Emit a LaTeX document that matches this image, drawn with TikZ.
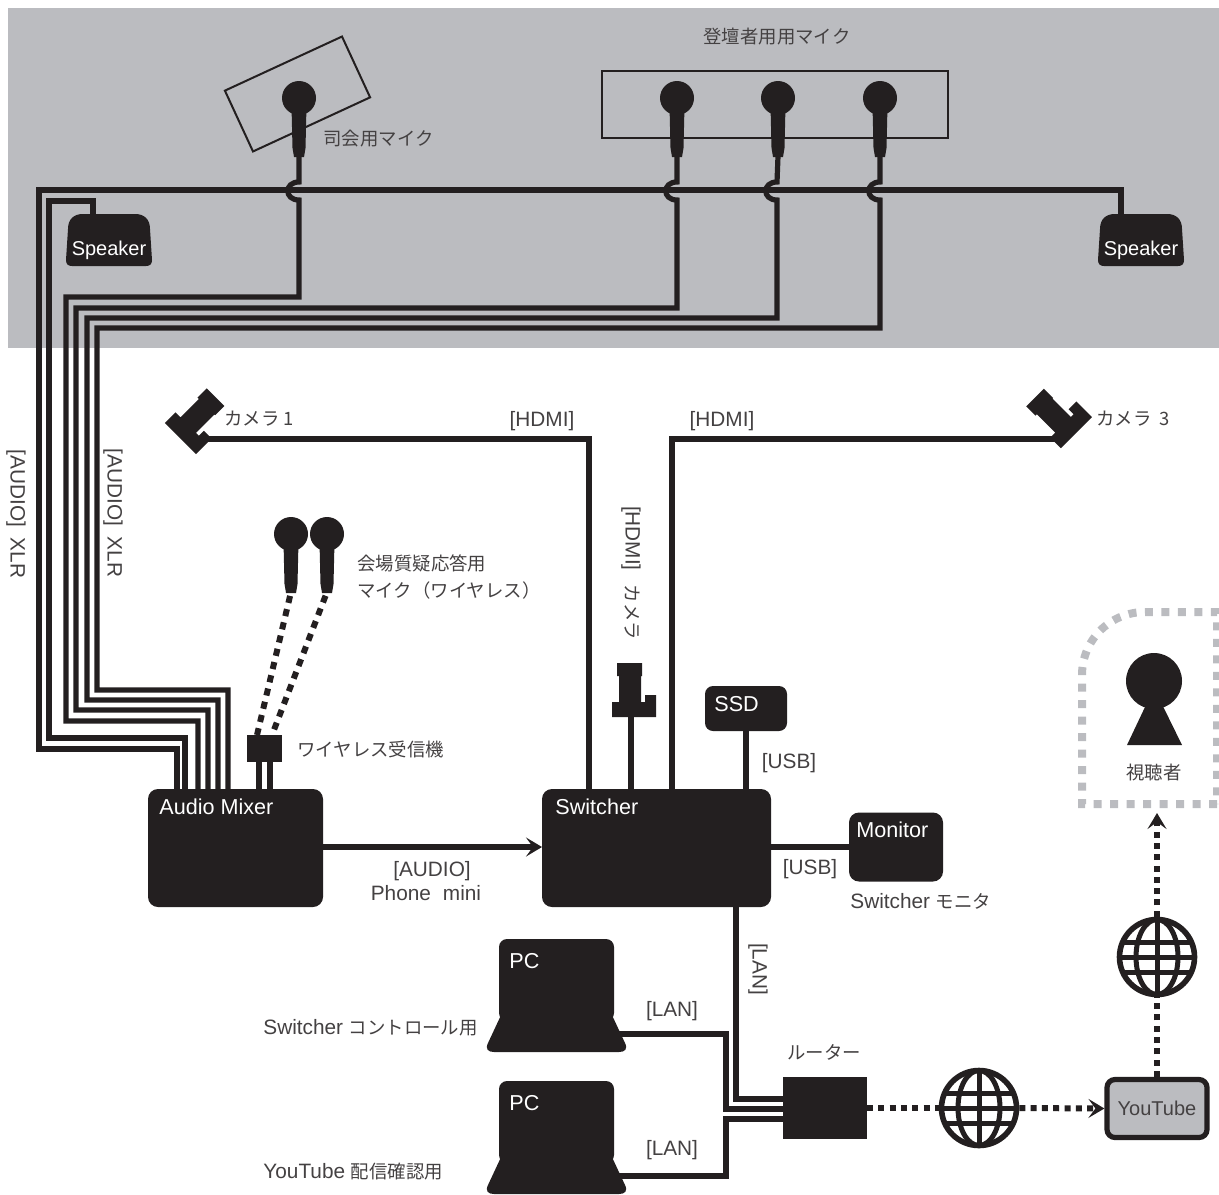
\documentclass[tikz,border=0pt]{standalone}
\usepackage{fontspec}
\setmainfont{Liberation Sans}
\newfontfamily\jp{Noto Sans CJK JP}
\usetikzlibrary{arrows.meta}
\definecolor{ink}{HTML}{231F20}
\definecolor{band}{HTML}{BBBCC0}
\colorlet{labelink}{ink!85}
\newcommand{\jt}[1]{{\fontsize{9.2}{12}\selectfont\jp #1}}
\tikzset{
    wire/.style={draw=ink,line width=2.6pt},
    dotwire/.style={draw=ink,line width=3pt,dash pattern=on 3pt off 2.65pt},
    radiowire/.style={draw=ink,line width=3pt,dash pattern=on 3.6pt off 3.2pt,dash phase=-2pt},
    tip/.style={-{Stealth[length=8pt,width=9.5pt,inset=3.5pt]}},
    box/.style={fill=ink,rounded corners=5pt,inner sep=0pt,outer sep=0pt},
    panel/.style={draw=ink,line width=1pt,inner sep=0pt},
    lbl/.style={text=labelink,inner sep=0pt,font=\fontsize{10.4}{13}\selectfont},
    jlbl/.style={text=labelink,inner sep=0pt,font=\jp\fontsize{9.2}{13.5}\selectfont},
    boxlbl/.style={text=white,inner sep=0pt,anchor=west,font=\fontsize{10.8}{13}\selectfont},
    mic/.pic={
        \fill[ink] (0,0) circle[radius=17];
        \fill[ink] (-7.5,8) -- (7.5,8) -- (6.5,50) -- (5,59) -- (-5,59) -- (-6.5,50) -- cycle;
        \coordinate (-tail) at (0,58);
    },
    speaker/.pic={
        \fill[ink] (-41,-11) .. controls (-41,-21) and (-35,-26) .. (-26,-26) -- (26,-26) .. controls (35,-26) and (41,-21) .. (41,-11) -- (43,20) .. controls (43,24) and (41,26) .. (37,26) -- (-37,26) .. controls (-41,26) and (-43,24) .. (-43,20) -- cycle;
        \node[boxlbl,anchor=center,font=\fontsize{10}{13}\selectfont] (-name) at (0,10) {Speaker};
    },
    camera/.pic={
        \fill[ink] (-19,0) -- (25,0) -- (25,-22) -- (14,-22) -- (14,-15) -- (10,-15) -- (10,-41) -- (11,-41) -- (11,-54) -- (-14,-54) -- (-14,-41) -- (-12,-41) -- (-12,-15) -- (-19,-15) -- cycle;
        \coordinate (-out) at (0,0);
    },
    laptop/.pic={
        \fill[ink,rounded corners=4pt] (0,0) rectangle (115,82);
        \fill[ink] (3,74) -- (112,74) -- (126,104) .. controls (129,110) and (126,113) .. (120,113) -- (-5,113) .. controls (-11,113) and (-14,110) .. (-11,104) -- cycle;
        \node[boxlbl] (-name) at (10,22) {PC};
        \coordinate (-out) at (118,95);
    },
    globe/.pic={
        \node[circle,draw=ink,line width=2.8pt,minimum size=37.5pt,inner sep=0pt] (-rim) at (0,0) {};
        \draw[ink,line width=2.5pt] (0,0) ellipse[x radius=21,y radius=37.5];
        \draw[ink,line width=2.5pt] (0,-37.5) -- (0,37.5);
        \draw[ink,line width=2.5pt] (-37.5,0) -- (37.5,0);
        \draw[ink,line width=2.5pt] (-34,-15) -- (34,-15);
        \draw[ink,line width=2.5pt] (-34,15) -- (34,15);
    },
}
\begin{document}
\begin{tikzpicture}[x=0.5pt,y=-0.5pt]
    \useasboundingbox (0,0) rectangle (1219,1194);
    \fill[band] (8,8) rectangle (1219,348);

    \node[panel,minimum width=64.5pt,minimum height=33.5pt,rotate=24.8] (panelhost) at (297.5,94) {};
    \node[panel,minimum width=173pt,minimum height=33.5pt] (panelstage) at (775,104.5) {};

    \pic (micA) at (299,98) {mic};
    \pic (micB) at (677,98) {mic};
    \pic (micC) at (778,98) {mic};
    \pic (micD) at (880,98) {mic};
    \pic (wmicA) at (291,534) {mic};
    \pic (wmicB) at (327,534) {mic};

    \pic (spkL) at (109,240) {speaker};
    \pic (spkR) at (1141,240) {speaker};
    \coordinate (spkLin) at (93,214);
    \coordinate (spkRin) at (1121,214);

    \node[box,minimum width=87.5pt,minimum height=59pt] (mixer) at (235.5,848) {};
    \node[box,minimum width=114.5pt,minimum height=59pt] (switcher) at (656.5,848) {};
    \node[box,minimum width=41pt,minimum height=22.5pt,rounded corners=4pt] (ssd) at (746,708.5) {};
    \node[box,minimum width=47pt,minimum height=34.5pt] (monitor) at (896,847) {};
    \node[box,rounded corners=0pt,minimum width=17.5pt,minimum height=13.5pt] (rx) at (264.5,748.5) {};
    \node[box,rounded corners=0pt,minimum width=42pt,minimum height=31pt] (router) at (825,1108) {};
    \node[box,fill=band,draw=ink,line width=2.6pt,rounded corners=4pt,minimum width=50pt,minimum height=29pt,outer sep=1.3pt,text=labelink,font=\fontsize{10}{13}\selectfont] (youtube) at (1157,1108.5) {YouTube};

    \node[boxlbl] (mixerlbl) at (159,807) {Audio Mixer};
    \node[boxlbl] (switcherlbl) at (555,807) {Switcher};
    \node[boxlbl] (ssdlbl) at (714,704) {SSD};
    \node[boxlbl] (monitorlbl) at (856,830) {Monitor};

    \pic (pcA) at (499,939) {laptop};
    \pic (pcB) at (499,1081) {laptop};
    \pic (globeA) at (1157,957) {globe};
    \pic (globeB) at (979,1108) {globe};

    \pic[rotate=-45] (camA) at (178.4,436.4) {camera};
    \pic (camB) at (631,717) {camera};
    \pic[rotate=45] (camC) at (1074.3,434.7) {camera};
    \coordinate (camAout) at (207,439);
    \coordinate (camCout) at (1055,439);

    \draw[wire] (spkRin) |- (39,190) -- (39,749) -| (177,0 |- mixer.north);
    \draw[wire] (spkLin) |- (49,201) -- (49,738) -| (185,0 |- mixer.north);
    \draw[wire] (micA-tail) -- (299,182) .. controls +(-15,0) and +(-15,0) .. (299,200) |- (66,297) -- (66,721) -| (198,0 |- mixer.north);
    \draw[wire] (micB-tail) -- (677,182) .. controls +(-15,0) and +(-15,0) .. (677,200) |- (76,308) -- (76,710) -| (208,0 |- mixer.north);
    \draw[wire] (micC-tail) -- (777,182) .. controls +(-15,0) and +(-15,0) .. (777,200) |- (87,318) -- (87,700) -| (218,0 |- mixer.north);
    \draw[wire] (micD-tail) -- (880,182) .. controls +(-15,0) and +(-15,0) .. (880,200) |- (97,328) -- (97,690) -| (228,0 |- mixer.north);

    \draw[radiowire] (wmicA-tail) -- (257,0 |- rx.north);
    \draw[radiowire] (wmicB-tail) -- (272,0 |- rx.north);
    \draw[wire] (259,0 |- rx.south) -- (259,0 |- mixer.north);
    \draw[wire] (270,0 |- rx.south) -- (270,0 |- mixer.north);

    \draw[wire,tip] (mixer.east |- 0,847) -- (switcher.west |- 0,847);
    \draw[wire] (camAout) -| (589,0 |- switcher.north);
    \draw[wire] (camCout) -| (672,0 |- switcher.north);
    \draw[wire] (camB-out) -- (camB-out |- switcher.north);
    \draw[wire] (ssd.south) -- (ssd.south |- switcher.north);
    \draw[wire] (switcher.east |- monitor.west) -- (monitor.west);

    \draw[wire] (736,0 |- switcher.south) |- (router.west |- 0,1099);
    \draw[wire] (pcA-out) -| (726,1109) -- (router.west |- 0,1109);
    \draw[wire] (pcB-out) -| (726,1119) -- (router.west |- 0,1119);

    \draw[dotwire] (router.east) -- (globeB-rim.west);
    \draw[dotwire,tip] (globeB-rim.east) -- (youtube.west);
    \draw[dotwire] (youtube.north) -- (globeA-rim.south);
    \coordinate (viewerin) at (1157,813);
    \draw[dotwire,tip] (globeA-rim.north) -- (viewerin);

    \draw[band,line width=4pt,dash pattern=on 4pt off 4.25pt] (1217,804) -- (1082,804) -- (1082,675) .. controls (1082,640) and (1110,612) .. (1145,612) -- (1217,612) -- cycle;
    \fill[ink] (1154,681) circle[radius=28];
    \fill[ink] (1154,688) -- (1182,745) -- (1127,745) -- cycle;

    \node[jlbl,anchor=center] (stagelbl) at (777,37) {登壇者用用マイク};
    \node[jlbl,anchor=west] (hostlbl) at (323,139) {司会用マイク};
    \node[lbl,rotate=-90] (xlrA) at (16,514) {[AUDIO]\hspace{5.5pt}XLR};
    \node[lbl,rotate=-90] (xlrB) at (113,513) {[AUDIO]\hspace{5.5pt}XLR};
    \node[jlbl,anchor=west] (camAlbl) at (224,419) {カメラ 1};
    \node[jlbl,anchor=west] (camClbl) at (1096,419) {カメラ\hspace{4pt}3};
    \node[lbl] (hdmiA) at (542,421) {[HDMI]};
    \node[lbl] (hdmiC) at (722,421) {[HDMI]};
    \node[lbl,rotate=-90] (hdmiB) at (631,573) {[HDMI]\hspace{7pt}\jt{カメラ}};
    \node[jlbl,anchor=west,align=left] (wmiclbl) at (357,577.5) {会場質疑応答用\\マイク（ワイヤレス）};
    \node[jlbl,anchor=west] (rxlbl) at (297,749) {ワイヤレス受信機};
    \node[lbl] (audiolbl) at (432,871) {[AUDIO]};
    \node[lbl] (phonelbl) at (426,893) {Phone\hspace{6pt}mini};
    \node[lbl] (usbA) at (789,763) {[USB]};
    \node[lbl] (usbB) at (810,869) {[USB]};
    \node[lbl,anchor=west] (monitorcap) at (850,901) {Switcher \jt{モニタ}};
    \node[lbl,rotate=-90] (lanA) at (758,969) {[LAN]};
    \node[lbl] (lanB) at (672,1011) {[LAN]};
    \node[lbl] (lanC) at (672,1150) {[LAN]};
    \node[jlbl,anchor=center] (routerlbl) at (824,1052) {ルーター};
    \node[lbl,anchor=west] (pcAcap) at (263,1028) {Switcher \jt{コントロール用}};
    \node[lbl,anchor=west] (pcBcap) at (263,1172) {YouTube \jt{配信確認用}};
    \node[jlbl,anchor=center] (viewerlbl) at (1154,772) {視聴者};
\end{tikzpicture}
\end{document}
